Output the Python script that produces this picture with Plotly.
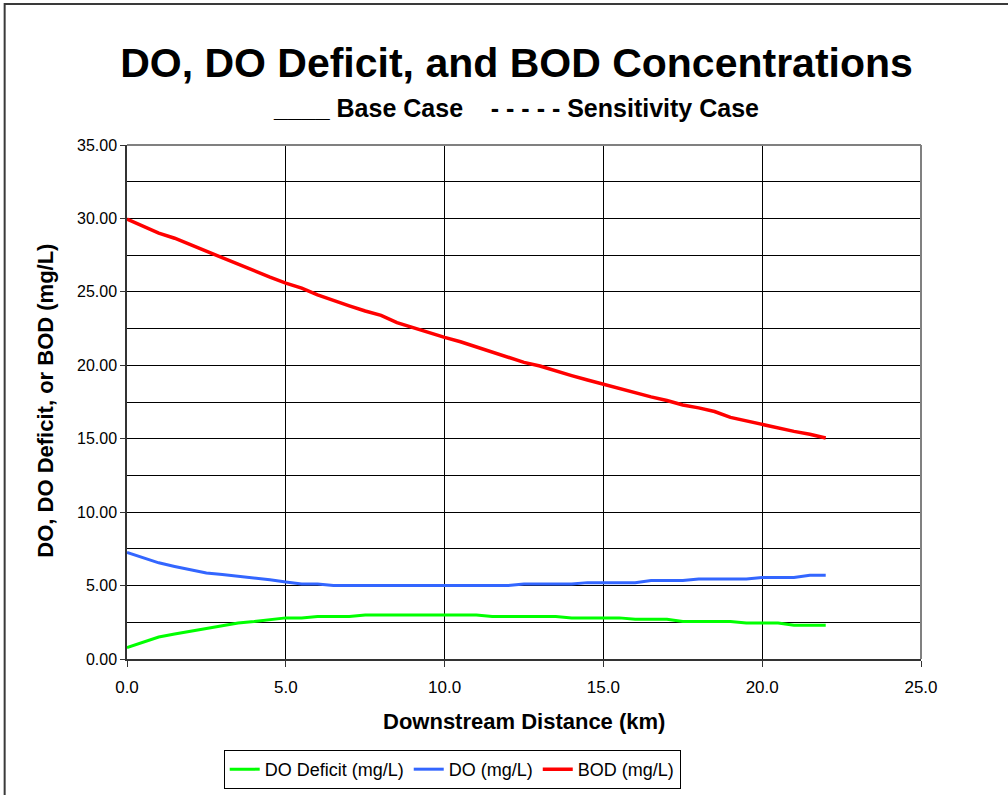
import plotly.graph_objects as go

# downstream distance (km), one point every 0.5 km
distance_km = [
    0.0, 0.5, 1.0, 1.5, 2.0, 2.5, 3.0, 3.5, 4.0, 4.5,
    5.0, 5.5, 6.0, 6.5, 7.0, 7.5, 8.0, 8.5, 9.0, 9.5,
    10.0, 10.5, 11.0, 11.5, 12.0, 12.5, 13.0, 13.5, 14.0, 14.5,
    15.0, 15.5, 16.0, 16.5, 17.0, 17.5, 18.0, 18.5, 19.0, 19.5,
    20.0, 20.5, 21.0, 21.5, 22.0,
]

do_deficit = [
    0.77, 1.15, 1.50, 1.70, 1.90, 2.05, 2.30, 2.45, 2.55, 2.65,
    2.80, 2.80, 2.90, 2.90, 2.90, 3.00, 3.00, 3.00, 3.00, 3.00,
    3.00, 3.00, 3.00, 2.90, 2.90, 2.90, 2.90, 2.90, 2.80, 2.80,
    2.80, 2.80, 2.70, 2.70, 2.70, 2.55, 2.55, 2.55, 2.55, 2.45,
    2.45, 2.45, 2.30, 2.30, 2.30,
]

do_conc = [
    7.25, 6.90, 6.55, 6.30, 6.10, 5.85, 5.75, 5.65, 5.50, 5.40,
    5.25, 5.10, 5.10, 5.00, 5.00, 5.00, 5.00, 5.00, 5.00, 5.00,
    5.00, 5.00, 5.00, 5.00, 5.00, 5.10, 5.10, 5.10, 5.10, 5.20,
    5.20, 5.20, 5.20, 5.35, 5.35, 5.35, 5.45, 5.45, 5.45, 5.45,
    5.55, 5.55, 5.55, 5.70, 5.70,
]

bod = [
    29.95, 29.50, 29.00, 28.65, 28.20, 27.75, 27.30, 26.90, 26.40, 26.00,
    25.60, 25.25, 24.80, 24.40, 24.05, 23.70, 23.40, 22.90, 22.55, 22.20,
    21.90, 21.60, 21.25, 20.90, 20.60, 20.20, 19.95, 19.60, 19.30, 19.00,
    18.70, 18.45, 18.10, 17.85, 17.60, 17.30, 17.10, 16.85, 16.45, 16.20,
    16.00, 15.75, 15.50, 15.30, 15.05,
]

series_names = ["DO Deficit (mg/L)", "DO (mg/L)", "BOD (mg/L)"]
series_colors = ["#00FF00", "#3366FF", "#FF0000"]
series_widths = [3, 3, 3.5]

FONT = "Arial, Liberation Sans, sans-serif"

fig = go.Figure()

for name, values, color, width in zip(
    series_names, [do_deficit, do_conc, bod], series_colors, series_widths
):
    fig.add_trace(
        go.Scatter(
            x=distance_km,
            y=values,
            mode="lines",
            name=name,
            line=dict(color=color, width=width),
        )
    )

fig.update_layout(
    width=1008,
    height=795,
    paper_bgcolor="white",
    plot_bgcolor="white",
    margin=dict(l=127, r=87, t=145, b=136, autoexpand=False),
    font=dict(family=FONT, color="black"),
    title=dict(
        text="<b>DO, DO Deficit, and BOD Concentrations</b>",
        font=dict(size=41, family=FONT, color="black"),
        xref="container",
        yref="container",
        x=516.5 / 1008,
        y=1 - 63 / 795,
        xanchor="center",
        yanchor="middle",
    ),
    showlegend=True,
    legend=dict(
        orientation="h",
        x=0.1218,
        y=-0.177,
        xanchor="left",
        yanchor="top",
        bordercolor="black",
        borderwidth=1,
        font=dict(size=18, family=FONT, color="black"),
        bgcolor="white",
    ),
)

fig.update_xaxes(
    range=[0, 25],
    dtick=5,
    tick0=0,
    tickformat=".1f",
    showgrid=True,
    gridcolor="black",
    gridwidth=1,
    zeroline=False,
    showline=True,
    linecolor="#333333",
    linewidth=1.5,
    ticks="outside",
    ticklen=6,
    tickcolor="#333333",
    tickfont=dict(size=17, family=FONT, color="black"),
    ticklabelstandoff=6,
)

fig.update_yaxes(
    range=[0, 35],
    dtick=5,
    tick0=0,
    tickformat=".2f",
    showgrid=True,
    gridcolor="black",
    gridwidth=1,
    minor=dict(dtick=2.5, showgrid=True, gridcolor="black", gridwidth=1),
    zeroline=False,
    showline=True,
    linecolor="#333333",
    linewidth=1.5,
    ticks="outside",
    ticklen=5,
    tickcolor="#333333",
    tickfont=dict(size=16, family=FONT, color="black"),
    ticklabelstandoff=0,
)

# subtitle with line style key
fig.add_annotation(
    text="<b>____ Base Case\u00a0\u00a0\u00a0 - - - - - Sensitivity Case</b>",
    xref="paper",
    yref="paper",
    x=(516 - 127.3) / 793.7,
    y=(659 - 108) / 514,
    xanchor="center",
    yanchor="middle",
    showarrow=False,
    font=dict(size=25, family=FONT, color="black"),
)

# axis titles
fig.add_annotation(
    text="<b>Downstream Distance (km)</b>",
    xref="paper",
    yref="paper",
    x=0.5,
    y=(659 - 721) / 514,
    xanchor="center",
    yanchor="middle",
    showarrow=False,
    font=dict(size=22, family=FONT, color="black"),
)
fig.add_annotation(
    text="<b>DO, DO Deficit, or BOD (mg/L)</b>",
    xref="paper",
    yref="paper",
    x=(45 - 127.3) / 793.7,
    y=(659 - 401) / 514,
    xanchor="center",
    yanchor="middle",
    textangle=-90,
    showarrow=False,
    font=dict(size=22, family=FONT, color="black"),
)

# gray plot-area border on top and right
fig.add_shape(type="line", xref="paper", yref="paper", x0=0, x1=1, y0=1, y1=1,
              line=dict(color="#808080", width=2))
fig.add_shape(type="line", xref="paper", yref="paper", x0=1, x1=1, y0=0, y1=1,
              line=dict(color="#808080", width=2))

# chart frame, visible on the top and left edges only
fig.add_shape(
    type="rect",
    xref="paper",
    yref="paper",
    x0=(5 - 127.3) / 793.7,
    x1=1.3,
    y0=-0.5,
    y1=(659 - 4) / 514,
    line=dict(color="#3a3a3a", width=2),
)

# drop the default page margin so the figure sits at the window corner
fig.write_html(
    "out.html",
    config={"displayModeBar": False},
    post_script="document.body.style.margin='0';",
)
